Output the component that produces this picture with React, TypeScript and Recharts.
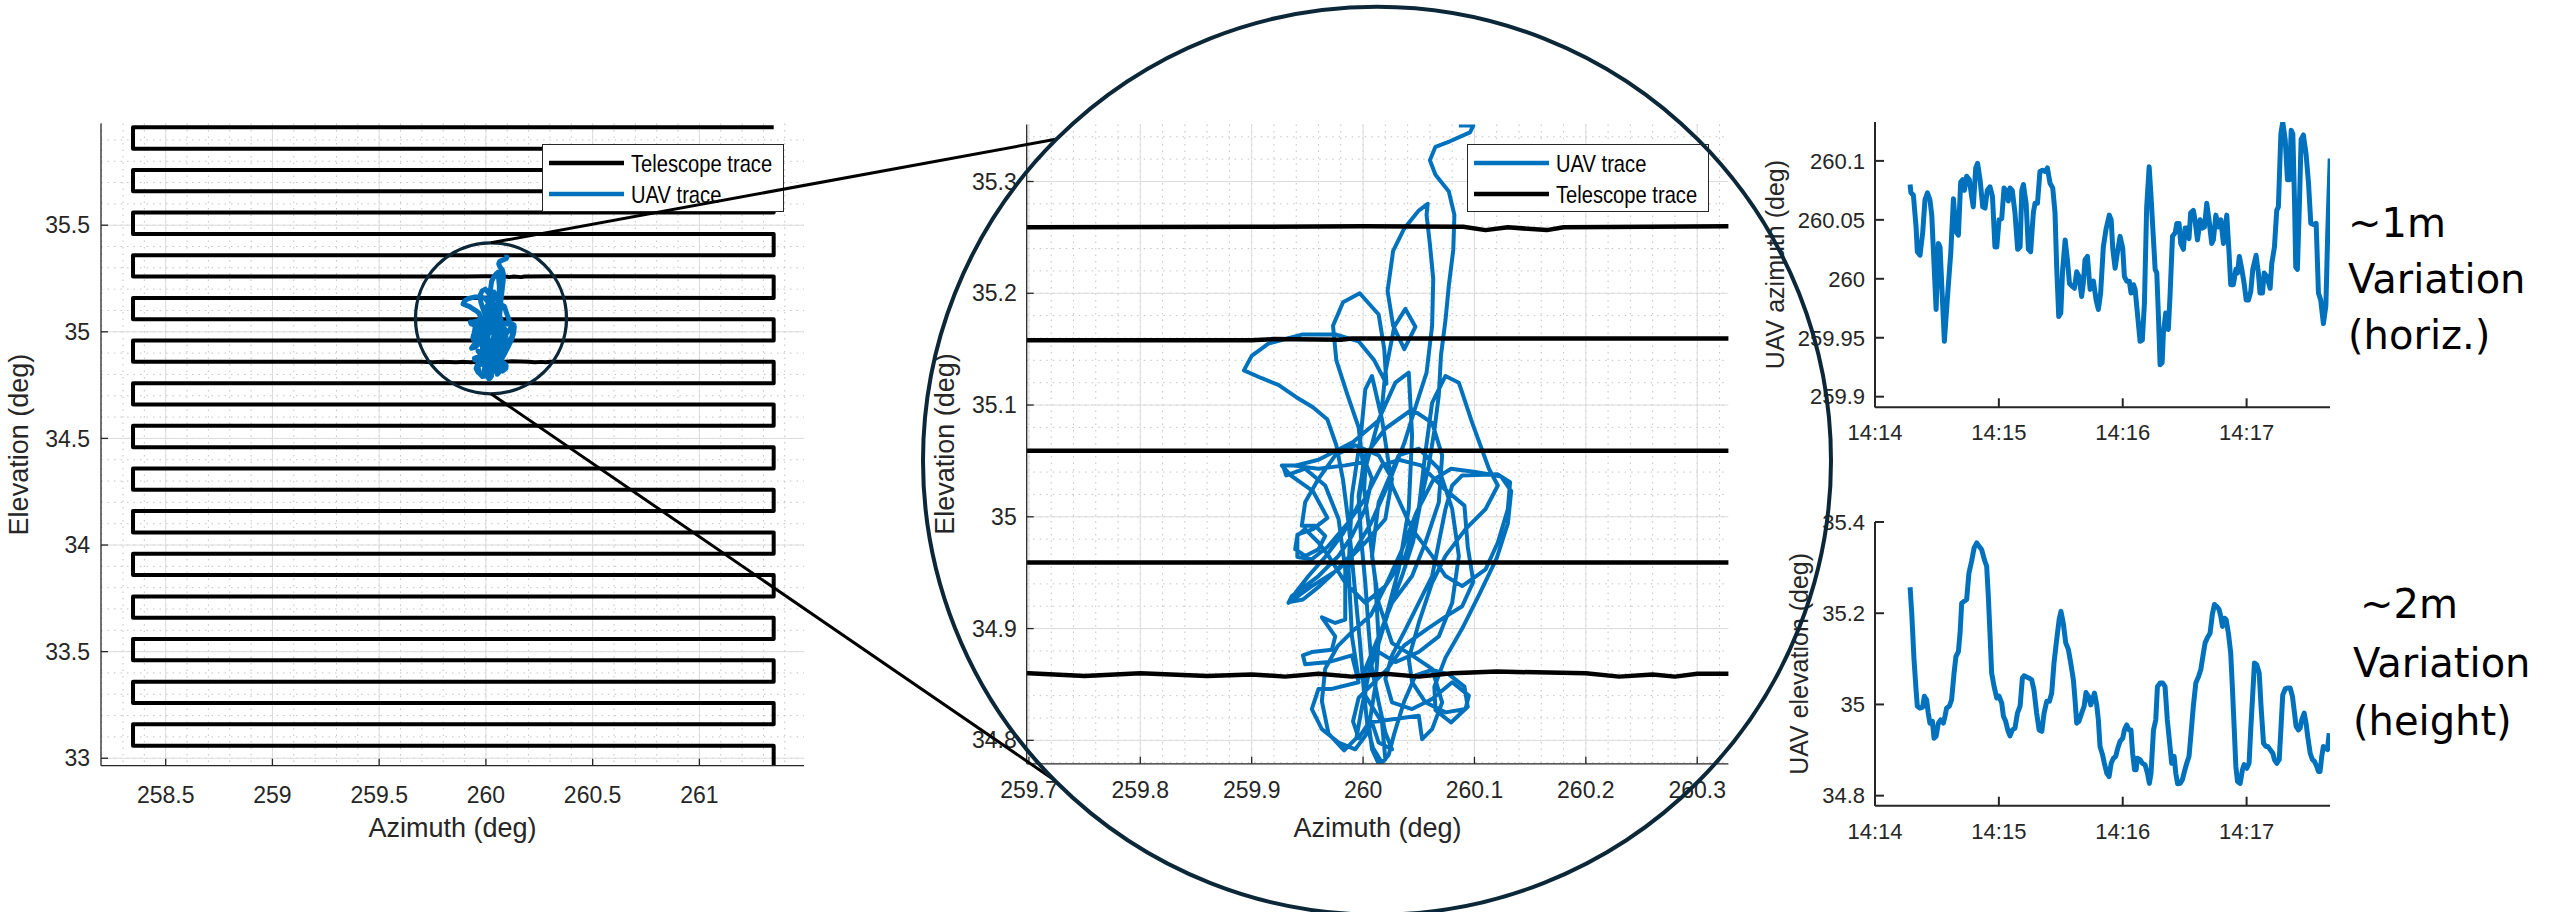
import React from 'react';
import { LineChart, Line, XAxis, YAxis, CartesianGrid, Legend } from 'recharts';

const W = 2549;
const H = 912;
const FONT = "'Liberation Sans', Arial, Helvetica, sans-serif";
const AX = '#262626';
const BLUE = '#0072BD';
const NAVY = '#0c2838';

// ---------- Telescope raster scan (serpentine) ----------
const telescopeRowEl = [
  35.959, 35.859, 35.759, 35.659, 35.559, 35.459, 35.359, 35.259, 35.159, 35.059, 34.959,
  34.86, 34.759, 34.659, 34.559, 34.459, 34.359, 34.259, 34.159, 34.059, 33.959, 33.859,
  33.759, 33.659, 33.559, 33.459, 33.359, 33.259, 33.159, 33.059, 32.959,
];
const telescopeTurnAz = [258.347, 261.348];
// small wobbles of individual scan rows (az, el)
const row3526Az = [259.7, 259.9, 260.0, 260.09, 260.11, 260.13, 260.165, 260.18, 260.33];
const row3526El = [35.259, 35.2595, 35.26, 35.2595, 35.2565, 35.259, 35.2565, 35.259, 35.26];
const row3516Az = [259.7, 259.9, 259.92, 259.98, 259.99, 260.33];
const row3516El = [35.158, 35.158, 35.159, 35.1585, 35.1595, 35.1595];
const row3486Az = [259.7, 259.75, 259.8, 259.86, 259.9, 259.93, 259.96, 259.99, 260.02, 260.05, 260.08, 260.12, 260.2, 260.23, 260.26, 260.28, 260.3];
const row3486El = [34.86, 34.8575, 34.86, 34.8575, 34.859, 34.857, 34.8595, 34.857, 34.8595, 34.857, 34.86, 34.8615, 34.86, 34.857, 34.859, 34.857, 34.8595];

// ---------- UAV trace (az, el) ----------
const uavAz = [
  260.086, 260.099, 260.096, 260.078, 260.065, 260.06, 260.065, 260.077, 260.082, 260.081,
  260.077, 260.074, 260.07, 260.068, 260.064, 260.059, 260.052, 260.045, 260.035, 260.023,
  260.014, 260.005, 259.999, 259.994, 259.983, 259.969, 259.963, 259.966, 259.977, 259.992,
  260.007, 260.022, 260.036, 260.048, 260.063, 260.079, 260.101, 260.124, 260.133, 260.13,
  260.12, 260.105, 260.089, 260.074, 260.064, 260.065, 260.079, 260.094, 260.091, 260.077,
  260.062, 260.047, 260.037, 260.028, 260.023, 260.017, 260.009, 260.004, 260.001, 259.997,
  259.992, 259.987, 259.982, 259.976, 259.968, 259.955, 259.94, 259.924, 259.909, 259.893,
  259.9, 259.915, 259.945, 259.976, 259.996, 260.01, 260.021, 260.019, 260.014, 259.997,
  259.982, 259.973, 259.976, 259.986, 259.996, 260.0, 259.996, 259.982, 259.966, 259.951,
  259.94, 259.935, 259.946, 259.961, 259.977, 259.992, 260.007, 260.023, 260.037, 260.047,
  260.057, 260.062, 260.063, 260.06, 260.057, 260.058, 260.05, 260.037, 260.027, 260.022,
  260.027, 260.037, 260.047, 260.038, 260.028, 260.02, 260.016, 259.991, 259.96, 259.94,
  259.927, 259.935, 259.955, 259.968, 259.955, 259.941, 259.941, 259.954, 259.968, 259.986,
  260.001, 260.017, 260.032, 260.052, 260.073, 260.091, 260.094, 260.099, 260.089, 260.073,
  260.058, 260.037, 260.022, 260.006, 259.996, 259.991, 259.996, 260.006, 260.011, 260.014,
  260.011, 260.006, 260.001,
  260.002, 260.014, 260.029, 260.041, 260.044, 260.041, 260.032, 260.02, 260.008, 259.996,
  259.99, 259.987, 259.99, 259.998, 260.002, 260.008, 260.017, 260.026, 260.044, 260.062,
  260.074, 260.089, 260.11, 260.121, 260.13, 260.132, 260.121, 260.089, 260.08, 260.074,
  260.068, 260.062, 260.05, 260.038, 260.026, 260.02, 260.026, 260.044, 260.062, 260.08,
  260.095, 260.092, 260.074, 260.056, 260.044, 260.041, 260.05, 260.062, 260.074, 260.092,
  260.11, 260.121, 260.113, 260.098, 260.086, 260.074, 260.062, 260.056, 260.05, 260.038,
  260.02, 260.002, 259.984, 259.969, 259.96, 259.948, 259.941, 259.939, 259.948, 259.96,
  259.966, 259.957, 259.945, 259.948, 259.96, 259.975, 259.993, 260.014, 260.026, 260.02,
  260.002, 259.978, 259.954, 259.933, 259.936, 259.96, 259.978, 259.99, 260.002, 260.008,
  260.002, 259.984, 259.96, 259.936, 259.928, 259.931, 259.948, 259.966, 259.978, 259.984,
  259.984, 259.975, 259.963, 259.975, 259.972, 259.954, 259.946, 259.948, 259.969, 259.99,
  259.996, 259.972, 259.96, 259.954, 259.963, 259.978, 259.993, 260.002, 260.008, 260.014,
  260.026, 260.02, 260.014, 260.008, 260.005, 260.002, 259.998, 259.996, 260.002, 260.02,
  260.044, 260.062, 260.071, 260.068, 260.056, 260.044, 260.026, 260.014, 260.002, 260.002,
  260.017, 260.02, 260.014, 260.008, 260.005, 260.05, 260.053, 260.062, 260.071, 260.062,
  260.044, 260.026, 260.014, 260.008, 260.014, 260.032, 260.05, 260.068, 260.08, 260.086,
  260.08, 260.068, 260.05, 260.029, 260.014,
];
const uavEl = [
  35.35, 35.35, 35.344, 35.336, 35.331, 35.319, 35.306, 35.291, 35.27, 35.239,
  35.207, 35.176, 35.145, 35.109, 35.077, 35.046, 35.015, 34.978, 34.947, 34.916,
  34.887, 34.859, 34.83, 34.802, 34.791, 34.806, 34.835, 34.864, 34.884, 34.899,
  34.912, 34.942, 34.973, 35.004, 35.033, 35.043, 35.04, 35.036, 35.023, 34.994,
  34.963, 34.932, 34.9, 34.874, 34.848, 34.827, 34.816, 34.83, 34.848, 34.859,
  34.863, 34.858, 34.835, 34.806, 34.787, 34.78, 34.793, 34.812, 34.841, 34.89,
  34.942, 34.994, 35.033, 35.064, 35.087, 35.098, 35.107, 35.118, 35.124, 35.131,
  35.144, 35.155, 35.163, 35.163, 35.157, 35.14, 35.119, 35.15, 35.181, 35.2,
  35.192, 35.171, 35.14, 35.109, 35.08, 35.046, 35.011, 34.985, 34.964, 34.947,
  34.933, 34.924, 34.926, 34.938, 34.953, 34.969, 34.994, 35.03, 35.066, 35.098,
  35.129, 35.171, 35.213, 35.244, 35.27, 35.28, 35.274, 35.258, 35.238, 35.202,
  35.171, 35.15, 35.17, 35.186, 35.17, 35.129, 35.088, 35.067, 35.051, 35.046,
  35.046, 35.037, 35.023, 34.999, 34.989, 34.984, 34.964, 34.962, 34.973, 34.994,
  35.015, 35.046, 35.051, 35.046, 35.025, 35.01, 34.973, 34.942, 34.92, 34.91,
  34.9, 34.885, 34.864, 34.848, 34.838, 34.817, 34.802, 34.817, 34.848, 34.89,
  34.942, 34.984, 35.025,
  35.043, 35.087, 35.12, 35.129, 35.073, 35.007, 34.953, 34.908, 34.87, 34.855,
  34.893, 34.953, 35.019, 35.073, 35.114, 35.126, 35.087, 35.028, 34.989, 34.965,
  34.947, 34.938, 34.953, 34.977, 35.007, 35.031, 35.038, 35.037, 35.028, 35.007,
  34.977, 34.947, 34.923, 34.899, 34.876, 34.855, 34.834, 34.828, 34.837, 34.852,
  34.84, 34.828, 34.825, 34.834, 34.852, 34.873, 34.905, 34.941, 34.965, 34.989,
  35.007, 35.028, 35.043, 35.084, 35.12, 35.126, 35.102, 35.058, 35.007, 34.965,
  34.938, 34.923, 34.941, 34.965, 34.977, 34.989, 34.983, 34.971, 34.965, 34.971,
  34.983, 34.992, 34.992, 35.013, 35.034, 35.055, 35.064, 35.055, 35.034, 34.998,
  34.977, 34.953, 34.938, 34.923, 34.929, 34.947, 34.965, 34.983, 35.007, 35.034,
  35.049, 35.046, 35.043, 35.046, 35.046, 35.037, 35.043, 35.028, 34.998, 34.953,
  34.908, 34.905, 34.91, 34.893, 34.881, 34.879, 34.876, 34.868, 34.87, 34.876,
  34.852, 34.846, 34.846, 34.828, 34.81, 34.798, 34.792, 34.804, 34.816, 34.798,
  34.792, 34.807, 34.834, 34.864, 34.899, 34.941, 34.983, 35.019, 35.055, 35.079,
  35.096, 35.084, 35.055, 35.013, 34.977, 34.947, 34.923, 34.893, 34.864, 34.84,
  34.816, 34.783, 34.779, 34.792, 34.816, 34.822, 34.801, 34.81, 34.834, 34.864,
  34.876, 34.887, 34.923, 34.965, 35.013, 35.055, 35.061, 35.043, 35.007, 34.965,
  34.923, 34.893, 34.879, 34.87, 34.879,
];

// ---------- UAV azimuth vs time (seconds after 14:14:00) ----------
const azTimeSec = [
  17.0, 17.4, 18.6, 19.9, 20.5, 21.8, 23.1, 24.2, 25.4, 26.6,
  27.5, 29.6, 30.7, 31.5, 33.6, 35.5, 36.7, 38.0, 39.2, 40.4,
  41.5, 42.5, 43.3, 44.4, 45.7, 46.8, 47.6, 48.8, 49.7, 50.9,
  52.2, 53.3, 54.4, 55.7, 56.9, 58.1, 59.0, 60.1, 61.4, 62.5,
  63.8, 64.6, 65.4, 66.5, 67.8, 69.1, 70.3, 71.1, 71.9, 73.2,
  74.3, 75.4, 76.7, 77.5, 78.7, 79.9, 81.1, 82.4, 83.5, 84.8,
  86.1, 87.2, 88.0, 89.0, 90.0, 90.9, 92.1, 93.2, 94.2, 95.3,
  96.6, 97.7, 98.8, 100.1, 100.9, 101.7, 102.9, 104.2, 105.8, 107.1,
  108.2, 109.3, 110.6, 111.9, 113.5, 114.4, 115.2, 116.3, 117.4, 118.7,
  120.0, 120.8, 121.9, 123.2, 124.0, 125.2, 126.0, 127.1, 128.4, 129.5,
  130.5, 131.6, 132.8, 133.6, 134.9, 135.7, 136.5, 137.3, 138.1, 139.1,
  139.7, 140.8, 142.1, 142.9, 144.1, 145.4, 146.2, 147.3, 148.1, 149.4,
  150.2, 151.3, 152.1, 152.9, 154.2, 155.0, 156.2, 157.5, 158.6, 159.6,
  160.7, 161.8, 163.1, 163.9, 165.1, 166.4, 167.5, 168.8, 170.4, 171.5,
  172.3, 173.6, 174.8, 175.6, 176.5, 177.7, 178.8, 179.8, 180.9, 182.0,
  183.0, 184.6, 185.7, 186.5, 187.7, 188.5, 189.8, 191.4, 192.2, 193.5,
  194.6, 195.4, 196.6, 197.5, 198.7, 199.8, 200.8, 201.6, 202.4, 203.2,
  203.8, 204.6, 205.6, 206.4, 207.5, 208.8, 210.0, 211.1, 212.4, 213.7,
  214.8, 215.9, 217.2, 218.4, 219.3, 220.5,
];
const azDeg = [
  260.08, 260.073, 260.071, 260.044, 260.023, 260.02, 260.039, 260.067, 260.073, 260.067,
  260.054, 259.974, 260.03, 260.027, 259.947, 259.994, 260.022, 260.068, 260.04, 260.037,
  260.082, 260.084, 260.075, 260.087, 260.084, 260.07, 260.061, 260.094, 260.098, 260.084,
  260.061, 260.06, 260.075, 260.078, 260.07, 260.027, 260.027, 260.05, 260.051, 260.077,
  260.074, 260.066, 260.077, 260.075, 260.056, 260.025, 260.027, 260.075, 260.08, 260.064,
  260.025, 260.023, 260.056, 260.064, 260.064, 260.091, 260.092, 260.091, 260.094, 260.081,
  260.077, 260.056, 260.01, 259.968, 259.971, 260.008, 260.033, 260.016, 259.996, 259.994,
  259.992, 260.006, 260.002, 259.985, 259.996, 260.016, 260.019, 259.991, 259.998, 259.982,
  259.974, 259.988, 260.027, 260.042, 260.054, 260.05, 260.025, 260.009, 260.022, 260.036,
  260.026, 260.002, 259.998, 259.998, 259.988, 259.995, 259.991, 259.971, 259.947, 259.948,
  259.979, 260.061, 260.095, 260.073, 260.033, 260.008, 260.005, 259.968, 259.927, 259.929,
  259.954, 259.971, 259.957, 259.985, 260.036, 260.039, 260.047, 260.047, 260.03, 260.025,
  260.043, 260.043, 260.034, 260.056, 260.058, 260.05, 260.033, 260.05, 260.043, 260.044,
  260.064, 260.05, 260.03, 260.033, 260.054, 260.044, 260.05, 260.03, 260.054, 260.022,
  259.995, 259.995, 260.008, 260.005, 260.019, 260.008, 259.996, 259.982, 259.982, 259.989,
  260.008, 260.02, 260.005, 259.988, 259.988, 260.005, 260.002, 259.992, 260.013, 260.027,
  260.058, 260.061, 260.123, 260.133, 260.118, 260.084, 260.084, 260.126, 260.123, 260.067,
  260.01, 260.008, 260.064, 260.118, 260.122, 260.106, 260.081, 260.047, 260.046, 260.047,
  259.988, 259.982, 259.962, 259.977, 260.039, 260.102,
];

// ---------- UAV elevation vs time ----------
const elTimeSec = [
  17.0, 17.8, 18.9, 19.9, 20.5, 21.8, 23.1, 23.9, 25.0, 25.8,
  26.6, 27.8, 28.6, 29.6, 30.7, 31.8, 33.1, 33.9, 34.7, 36.0,
  37.1, 38.3, 39.2, 40.4, 41.2, 42.0, 43.1, 44.4, 45.5, 46.8,
  48.0, 49.3, 50.4, 51.7, 53.0, 54.1, 54.9, 55.7, 56.5, 57.7,
  59.0, 60.1, 61.4, 62.2, 63.3, 64.3, 65.4, 66.5, 67.8, 69.0,
  70.3, 71.4, 72.2, 73.5, 74.6, 75.9, 77.0, 78.3, 79.5, 80.8,
  81.9, 83.2, 84.5, 85.6, 86.7, 88.0, 89.2, 90.1, 91.2, 92.4,
  93.7, 94.8, 96.1, 96.9, 97.7, 98.8, 100.1, 101.3, 102.2, 103.4,
  104.5, 105.3, 106.3, 107.4, 108.2, 109.0, 110.2, 111.1, 112.3, 113.4,
  114.4, 115.5, 116.6, 117.6, 118.7, 120.0, 120.8, 121.9, 123.1, 124.0,
  124.8, 125.7, 126.5, 127.1, 128.4, 129.5, 130.8, 132.0, 132.9, 133.7,
  134.9, 136.0, 136.8, 138.1, 139.4, 140.5, 141.6, 142.9, 143.7, 144.9,
  145.7, 146.6, 147.8, 148.9, 149.9, 151.0, 152.1, 153.1, 154.2, 155.4,
  156.7, 157.8, 158.8, 159.9, 161.0, 162.3, 163.4, 164.4, 165.5, 166.7,
  167.5, 168.3, 169.3, 170.1, 171.2, 172.3, 173.1, 174.1, 174.8, 175.6,
  176.9, 178.0, 178.8, 180.1, 181.2, 182.0, 183.0, 183.8, 184.9, 186.1,
  187.0, 188.2, 189.3, 190.3, 191.4, 192.7, 193.5, 194.6, 195.8, 196.6,
  197.5, 198.7, 199.8, 201.1, 202.2, 203.2, 204.0, 205.1, 205.9, 206.7,
  207.9, 208.8, 209.6, 210.8, 211.9, 212.9, 214.0, 214.8, 215.6, 216.4,
  217.2, 218.4, 219.2, 220.0,
];
const elDeg = [
  35.257, 35.2, 35.098, 35.032, 34.996, 34.992, 34.994, 35.018, 35.01, 34.981,
  34.959, 34.963, 34.926, 34.93, 34.959, 34.966, 34.959, 34.974, 34.992, 34.996,
  35.01, 35.069, 35.105, 35.116, 35.156, 35.222, 35.226, 35.23, 35.288, 35.314,
  35.343, 35.354, 35.347, 35.339, 35.317, 35.303, 35.237, 35.156, 35.069, 35.039,
  35.014, 35.018, 35.003, 34.974, 34.963, 34.944, 34.931, 34.944, 34.948, 34.981,
  34.997, 35.058, 35.063, 35.06, 35.058, 35.054, 35.032, 34.981, 34.944, 34.941,
  34.981, 35.007, 35.007, 35.025, 35.091, 35.142, 35.186, 35.204, 35.178, 35.135,
  35.12, 35.091, 35.054, 35.01, 34.959, 34.963, 34.981, 34.996, 35.026, 35.018,
  34.999, 35.01, 35.025, 34.999, 34.966, 34.908, 34.89, 34.871, 34.849, 34.842,
  34.871, 34.882, 34.886, 34.904, 34.919, 34.926, 34.944, 34.955, 34.944, 34.944,
  34.893, 34.857, 34.857, 34.882, 34.879, 34.871, 34.868, 34.849, 34.827, 34.849,
  34.944, 34.966, 35.039, 35.047, 35.047, 35.039, 34.966, 34.908, 34.871, 34.886,
  34.849, 34.826, 34.827, 34.835, 34.853, 34.871, 34.886, 34.937, 34.996, 35.047,
  35.061, 35.076, 35.105, 35.135, 35.146, 35.156, 35.197, 35.219, 35.215, 35.208,
  35.193, 35.171, 35.189, 35.186, 35.156, 35.113, 35.039, 34.937, 34.864, 34.831,
  34.827, 34.857, 34.868, 34.86, 34.871, 34.944, 35.025, 35.091, 35.087, 35.069,
  34.996, 34.915, 34.908, 34.908, 34.901, 34.893, 34.879, 34.871, 34.879, 34.944,
  35.021, 35.034, 35.036, 35.036, 35.018, 34.981, 34.952, 34.944, 34.948, 34.966,
  34.981, 34.959, 34.93, 34.893, 34.879, 34.875, 34.864, 34.853, 34.853, 34.886,
  34.908, 34.904, 34.901, 34.937,
];

// ---------- ticks ----------
const leftAzTicks = [258.5, 259, 259.5, 260, 260.5, 261];
const leftElTicks = [33, 33.5, 34, 34.5, 35, 35.5];
const midAzTicks = [259.7, 259.8, 259.9, 260, 260.1, 260.2, 260.3];
const midElTicks = [34.8, 34.9, 35, 35.1, 35.2, 35.3];
const timeTicks = [0, 60, 120, 180];
const timeTickLabels = ['14:14', '14:15', '14:16', '14:17'];
const azPanelTicks = [259.9, 259.95, 260, 260.05, 260.1];
const elPanelTicks = [34.8, 35, 35.2, 35.4];

// ---------- build tables ----------
const zip = (a: number[], b: number[], ka: string, kb: string) =>
  a.map((v, i) => ({ [ka]: v, [kb]: b[i] }));

const rowDetail: Record<number, any[]> = {
  7: zip(row3526Az, row3526El, 'az', 'el'),
  8: zip(row3516Az, row3516El, 'az', 'el'),
  11: zip(row3486Az, row3486El, 'az', 'el'),
};
const telescopePath = telescopeRowEl.flatMap((el, i) => {
  const pts = [
    { az: telescopeTurnAz[0], el },
    ...(rowDetail[i] || []),
    { az: telescopeTurnAz[1], el },
  ];
  return i % 2 === 0 ? pts.slice().reverse() : pts;
});
const uavPath = zip(uavAz, uavEl, 'az', 'el');
const azSeries = zip(azTimeSec, azDeg, 't', 'v');
const elSeries = zip(elTimeSec, elDeg, 't', 'v');

const steps = (a: number, b: number, s: number) => {
  const n = Math.round((b - a) / s);
  return Array.from({ length: n + 1 }, (_, i) => Math.round((a + i * s) * 1000) / 1000);
};
const leftMinorAz = steps(258.2, 261.4, 0.1);
const leftMinorEl = steps(33.0, 35.9, 0.1);
const midMinorAz = steps(259.7, 260.32, 0.02);
const midMinorEl = steps(34.78, 35.34, 0.02);

// ---------- helpers ----------
const tickStyle = (size: number) => ({ fill: AX, fontSize: size, fontFamily: FONT });
const xTitle = (text: string, cx: number, cy: number, size: number) => () => (
  <text x={cx} y={cy} textAnchor="middle" dominantBaseline="central" fontSize={size} fill={AX} fontFamily={FONT}>
    {text}
  </text>
);
const yTitle = (text: string, cx: number, cy: number, size: number) => () => (
  <text
    x={cx}
    y={cy}
    transform={`rotate(-90 ${cx} ${cy})`}
    textAnchor="middle"
    dominantBaseline="central"
    fontSize={size}
    fill={AX}
    fontFamily={FONT}
  >
    {text}
  </text>
);

const LEG_W = 242;
const LEG_H = 68;
const makeLegend = (order: string[]) => (props: any) => {
  const items = (props.payload || []).slice().sort(
    (a: any, b: any) => order.indexOf(a.value) - order.indexOf(b.value),
  );
  return (
    <svg width={LEG_W} height={LEG_H} style={{ display: 'block', overflow: 'visible' }}>
      <rect x={0.5} y={0.5} width={LEG_W - 1} height={LEG_H - 1} fill="#fff" stroke={AX} strokeWidth={1} />
      {items.map((it: any, i: number) => {
        const cy = 19 + i * 31;
        return (
          <g key={i}>
            <line x1={7} x2={82} y1={cy} y2={cy} stroke={it.color} strokeWidth={4.5} />
            <text
              transform={`translate(89 ${cy + 8.5}) scale(0.84 1)`}
              fontSize={24}
              fontFamily={FONT}
              fill="#000"
            >
              {it.value}
            </text>
          </g>
        );
      })}
    </svg>
  );
};

const boxAxisLine = { stroke: AX, strokeWidth: 1.3 };

function LeftChart() {
  return (
    <LineChart width={W} height={H} margin={{ top: 123.5, right: 1745, bottom: 76.3, left: 41 }}>
      <CartesianGrid verticalValues={leftMinorAz} horizontalValues={leftMinorEl} stroke="#c4c4c4" strokeDasharray="1.5 5" />
      <CartesianGrid verticalValues={leftAzTicks} horizontalValues={leftElTicks} stroke="#dcdcdc" />
      <XAxis type="number" dataKey="az" domain={[258.197, 261.49]} ticks={leftAzTicks} allowDataOverflow interval={0}
        height={70} tickSize={-7} tickMargin={28} tick={tickStyle(23)} axisLine={boxAxisLine} tickLine={boxAxisLine}
        label={xTitle('Azimuth (deg)', 452.5, 828, 27)} />
      <XAxis xAxisId="t" orientation="top" type="number" dataKey="az" domain={[258.197, 261.49]} ticks={leftAzTicks}
        allowDataOverflow interval={0} height={0} tickSize={-7} tick={false} axisLine={boxAxisLine} tickLine={boxAxisLine} />
      <YAxis type="number" domain={[32.965, 35.977]} ticks={leftElTicks} allowDataOverflow interval={0} width={60}
        tickSize={-7} tickMargin={18} tick={tickStyle(23)} axisLine={boxAxisLine} tickLine={boxAxisLine}
        label={yTitle('Elevation (deg)', 19, 444.6, 27)} />
      <YAxis yAxisId="r" orientation="right" type="number" domain={[32.965, 35.977]} ticks={leftElTicks} allowDataOverflow
        interval={0} width={0} tickSize={-7} tick={false} axisLine={boxAxisLine} tickLine={boxAxisLine} />
      <Line data={telescopePath} dataKey="el" name="Telescope trace" stroke="#000" strokeWidth={4} dot={false}
        activeDot={false} isAnimationActive={false} strokeLinejoin="round" />
      <Line data={uavPath} dataKey="el" name="UAV trace" stroke={BLUE} strokeWidth={5} dot={false}
        activeDot={false} isAnimationActive={false} strokeLinejoin="round" />
      <Legend content={makeLegend(['Telescope trace', 'UAV trace'])} layout="horizontal" verticalAlign="middle" align="center"
        wrapperStyle={{ left: 541.7, top: 144.3, width: LEG_W, height: LEG_H, lineHeight: 0 }} />
    </LineChart>
  );
}

function MidChart() {
  const xd = [259.698, 260.328];
  const yd = [34.779, 35.351];
  return (
    <LineChart width={W} height={H} margin={{ top: 124.5, right: 820.6, bottom: 78.2, left: 966.7 }}>
      <CartesianGrid verticalValues={midMinorAz} horizontalValues={midMinorEl} stroke="#c4c4c4" strokeDasharray="1.5 5" />
      <CartesianGrid verticalValues={midAzTicks} horizontalValues={midElTicks} stroke="#dcdcdc" />
      <XAxis type="number" dataKey="az" domain={xd} ticks={midAzTicks} allowDataOverflow interval={0}
        height={70} tickSize={-7} tickMargin={25} tick={tickStyle(23)} axisLine={boxAxisLine} tickLine={boxAxisLine}
        label={xTitle('Azimuth (deg)', 1377.5, 828, 27)} />
      <XAxis xAxisId="t" orientation="top" type="number" dataKey="az" domain={xd} ticks={midAzTicks}
        allowDataOverflow interval={0} height={0} tickSize={-7} tick={false} axisLine={boxAxisLine} tickLine={boxAxisLine} />
      <YAxis type="number" domain={yd} ticks={midElTicks} allowDataOverflow interval={0} width={60}
        tickSize={-7} tickMargin={17} tick={tickStyle(23)} axisLine={boxAxisLine} tickLine={boxAxisLine}
        label={yTitle('Elevation (deg)', 945, 444, 27)} />
      <YAxis yAxisId="r" orientation="right" type="number" domain={yd} ticks={midElTicks} allowDataOverflow
        interval={0} width={0} tickSize={-7} tick={false} axisLine={boxAxisLine} tickLine={boxAxisLine} />
      <Line data={uavPath} dataKey="el" name="UAV trace" stroke={BLUE} strokeWidth={4} dot={false}
        activeDot={false} isAnimationActive={false} strokeLinejoin="round" />
      <Line data={telescopePath} dataKey="el" name="Telescope trace" stroke="#000" strokeWidth={4.5} dot={false}
        activeDot={false} isAnimationActive={false} strokeLinejoin="round" />
      <Legend content={makeLegend(['UAV trace', 'Telescope trace'])} layout="horizontal" verticalAlign="middle" align="center"
        wrapperStyle={{ left: 1466.6, top: 144.3, width: LEG_W, height: LEG_H, lineHeight: 0 }} />
    </LineChart>
  );
}

const panelAxis = { stroke: AX, strokeWidth: 2 };
const fmtTime = (v: number) => timeTickLabels[timeTicks.indexOf(v)] ?? '';

function TimePanel(props: {
  data: any[]; top: number; bottom: number; yDomain: number[]; yTicks: number[]; title: string; titleX: number;
}) {
  const { data, top, bottom, yDomain, yTicks, title, titleX } = props;
  return (
    <LineChart width={W} height={H} margin={{ top, right: 219, bottom: H - bottom - 50, left: 1795 }}>
      <XAxis type="number" dataKey="t" domain={[0, 220.4]} ticks={timeTicks} allowDataOverflow interval={0}
        height={50} tickSize={-9} tickMargin={26.5} tick={tickStyle(22)} tickFormatter={fmtTime}
        axisLine={panelAxis} tickLine={panelAxis} />
      <XAxis xAxisId="t" orientation="top" type="number" dataKey="t" domain={[0, 220.4]} ticks={timeTicks}
        allowDataOverflow interval={0} height={0} tickSize={-9} tick={false} axisLine={panelAxis} tickLine={panelAxis} />
      <YAxis type="number" domain={yDomain} ticks={yTicks} allowDataOverflow interval={0} width={80}
        tickSize={-9} tickMargin={19} tick={tickStyle(22)} axisLine={panelAxis} tickLine={panelAxis}
        label={yTitle(title, titleX, (top + bottom) / 2, 25)} />
      <Line data={data} dataKey="v" stroke={BLUE} strokeWidth={5} dot={false} activeDot={false}
        isAnimationActive={false} strokeLinejoin="round" />
    </LineChart>
  );
}

const layer: React.CSSProperties = { position: 'absolute', left: 0, top: 0 };
const annot = { fontFamily: "'DejaVu Sans', sans-serif", fontSize: 40, fill: '#000' };

export default function App() {
  return (
    <div style={{ position: 'absolute', left: 0, top: 0, width: W, height: H, background: '#fff', overflow: 'hidden' }}>
      <div style={layer}><LeftChart /></div>
      <div style={layer}><MidChart /></div>
      <div style={layer}>
        <TimePanel data={azSeries} top={122} bottom={407.3} yDomain={[259.891, 260.133]} yTicks={azPanelTicks}
          title="UAV azimuth (deg)" titleX={1775} />
      </div>
      <div style={layer}>
        <TimePanel data={elSeries} top={522} bottom={805.7} yDomain={[34.778, 35.4]} yTicks={elPanelTicks}
          title="UAV elevation (deg)" titleX={1799} />
      </div>
      <svg width={W} height={H} style={{ ...layer, pointerEvents: 'none' }}>
        <circle cx={491} cy={318.3} r={75.5} fill="none" stroke={NAVY} strokeWidth={3.3} />
        <line x1={491} y1={242.8} x2={1057} y2={139} stroke="#000" strokeWidth={3} />
        <line x1={491} y1={393.8} x2={1055} y2={780.5} stroke="#000" strokeWidth={3} />
        <circle cx={1377} cy={460.7} r={454} fill="none" stroke={NAVY} strokeWidth={4} />
        <text x={2348} y={236.7} {...annot}>~1m</text>
        <text x={2348} y={293.3} {...annot}>Variation</text>
        <text x={2348} y={348.5} {...annot}>(horiz.)</text>
        <text x={2360} y={618.3} {...annot}>~2m</text>
        <text x={2353} y={676.7} {...annot}>Variation</text>
        <text x={2353} y={735} {...annot}>(height)</text>
      </svg>
    </div>
  );
}
